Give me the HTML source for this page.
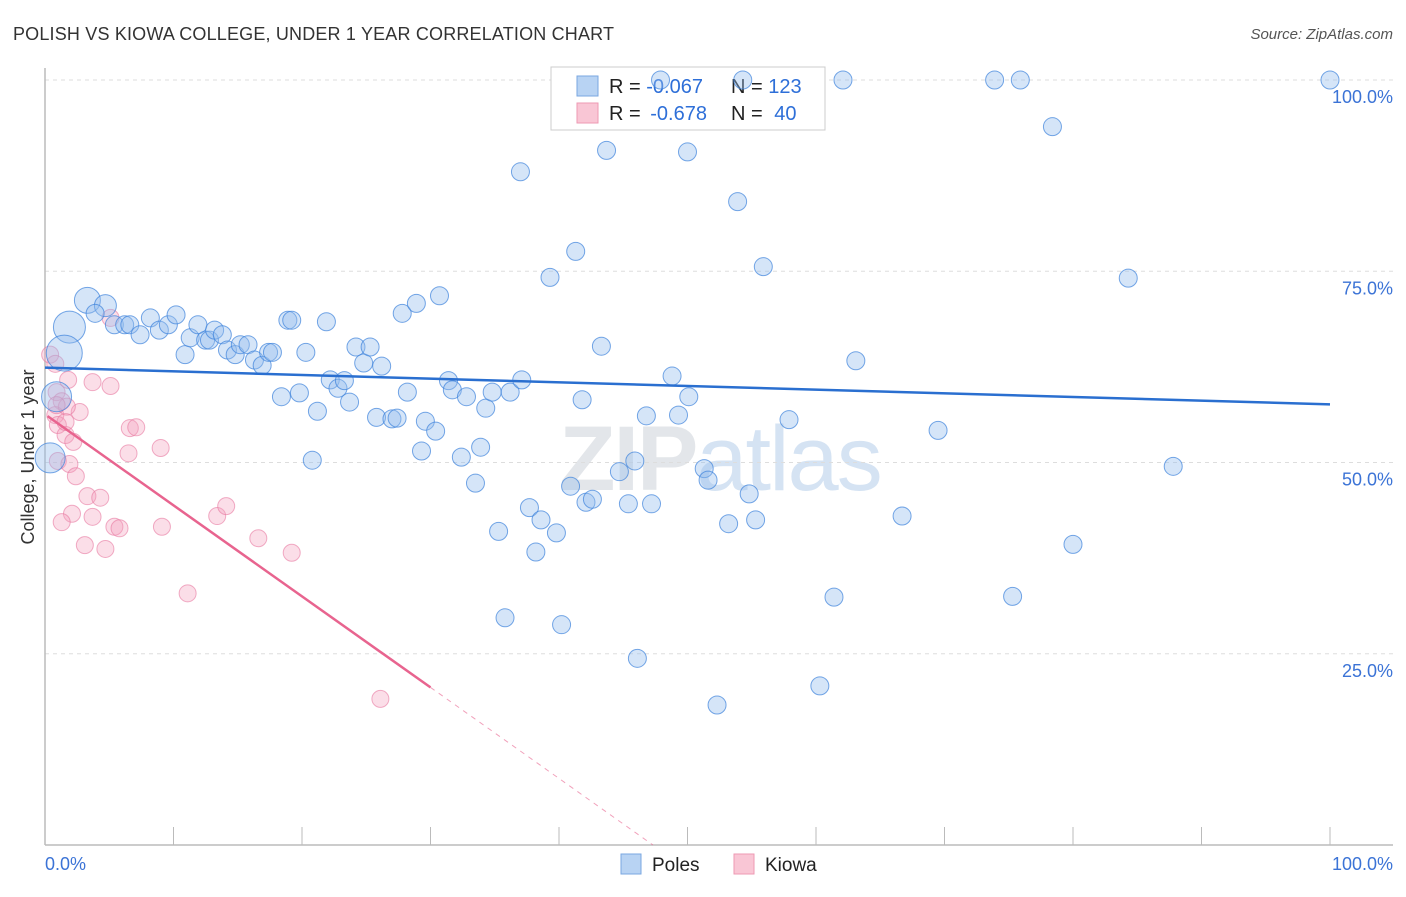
<!DOCTYPE html>
<html><head><meta charset="utf-8">
<style>
body{margin:0;background:#fff;font-family:"Liberation Sans",sans-serif;}
svg text{font-family:"Liberation Sans",sans-serif;}
</style></head>
<body>
<svg id="chart" width="1406" height="892" viewBox="0 0 1406 892">
<text x="13" y="40" font-size="18" fill="#333" textLength="601">POLISH VS KIOWA COLLEGE, UNDER 1 YEAR CORRELATION CHART</text>
<text x="1393" y="39" font-size="15" fill="#555" font-style="italic" text-anchor="end">Source: ZipAtlas.com</text>
<text x="720" y="490" font-size="92" fill="#e3e6ea" text-anchor="middle" font-weight="bold" letter-spacing="-2">ZIP<tspan fill="#d5e3f3" font-weight="normal">atlas</tspan></text>
<g id="grid"></g>
<g id="axes"></g>
<g>
<rect x="551" y="67" width="274" height="63" fill="#fff" stroke="#ccc"/>
<rect x="577" y="76" width="21" height="20" fill="#b8d3f3" stroke="#7aa7e0"/>
<rect x="577" y="103" width="21" height="20" fill="#f9c6d5" stroke="#ee99b3"/>
<text x="609" y="93" font-size="20" fill="#222">R = <tspan fill="#2e6fd8">-0.067</tspan></text>
<text x="731" y="93" font-size="20" fill="#222">N = <tspan fill="#2e6fd8">123</tspan></text>
<text x="609" y="120" font-size="20" fill="#222">R = <tspan fill="#2e6fd8" dx="4">-0.678</tspan></text>
<text x="731" y="120" font-size="20" fill="#222">N = <tspan fill="#2e6fd8" dx="6">40</tspan></text>
</g>
<g id="pts"></g>
<g id="trend"></g>
<text transform="translate(34,457) rotate(-90)" font-size="18" fill="#333" text-anchor="middle">College, Under 1 year</text>
<g>
<rect x="621" y="854" width="20" height="20" fill="#b8d3f3" stroke="#7aa7e0"/>
<text x="652" y="871" font-size="19" fill="#222">Poles</text>
<rect x="734" y="854" width="20" height="20" fill="#f9c6d5" stroke="#ee99b3"/>
<text x="765" y="871" font-size="19" fill="#222">Kiowa</text>
</g>
</svg>
<script>
const yTicks=[100,75,50,25];
const yTickLabels=["100.0%","75.0%","50.0%","25.0%"];
const xTicks=[0,10,20,30,40,50,60,70,80,90,100];
const polesX=[47.9,54.3,62.1,73.9,75.9,100,78.4,43.7,50.0,37.0,53.9,41.3,39.3,55.9,84.3,3.3,4.7,3.9,1.9,1.5,0.9,0.4,5.4,6.2,6.6,7.4,8.2,8.9,9.6,10.2,10.9,11.3,11.9,12.5,12.8,13.2,13.8,14.2,14.8,15.2,15.8,16.3,16.9,17.4,17.7,18.9,19.2,20.3,21.9,18.4,19.8,20.8,21.2,22.2,22.8,23.3,23.7,24.2,24.8,25.3,26.2,25.8,27.0,27.4,27.8,28.9,30.7,28.2,29.3,29.6,30.4,31.4,31.7,32.4,32.8,33.5,33.9,34.3,34.8,35.3,35.8,36.2,37.1,37.7,38.2,38.6,39.8,40.2,40.9,41.8,42.1,42.6,43.3,44.7,45.4,45.9,46.1,46.8,47.2,48.8,49.3,50.1,51.3,51.6,52.3,53.2,54.8,55.3,57.9,60.3,61.4,63.1,66.7,69.5,75.3,80.0,87.8];
const polesY=[100,100,100,100,100,100,93.9,90.8,90.6,88.0,84.1,77.6,74.2,75.6,74.1,71.2,70.5,69.5,67.7,64.3,58.6,50.6,68.0,68.0,68.0,66.7,68.9,67.3,68.0,69.3,64.1,66.3,68.0,66.0,66.0,67.3,66.7,64.7,64.1,65.4,65.4,63.4,62.7,64.4,64.4,68.6,68.6,64.4,68.4,58.6,59.1,50.3,56.7,60.8,59.7,60.7,57.9,65.1,63.0,65.1,62.6,55.9,55.7,55.8,69.5,70.8,71.8,59.2,51.5,55.4,54.1,60.7,59.5,50.7,58.6,47.3,52.0,57.1,59.2,41.0,29.7,59.2,60.8,44.1,38.3,42.5,40.8,28.8,46.9,58.2,44.8,45.2,65.2,48.8,44.6,50.2,24.4,56.1,44.6,61.3,56.2,58.6,49.2,47.7,18.3,42.0,45.9,42.5,55.6,20.8,32.4,63.3,43.0,54.2,32.5,39.3,49.5];
const polesSize=[9,9,9,9,9,9,9,9,9,9,9,9,9,9,9,13,11,9,16,18,15,15];
const kiowaX=[0.4,0.8,0.9,1.3,0.8,1.0,1.6,1.6,2.7,3.7,5.1,5.1,1.8,2.2,1.0,1.9,2.4,3.3,4.3,2.1,1.3,3.7,3.1,4.7,5.4,5.8,6.5,6.6,7.1,9.0,9.1,11.1,13.4,14.1,16.6,19.2,26.1,1.7,0.9];
const kiowaY=[64.1,62.9,59.2,58.0,56.2,54.9,53.6,55.3,56.6,60.5,60.0,68.9,60.8,52.7,50.2,49.8,48.2,45.6,45.4,43.3,42.2,42.9,39.2,38.7,41.6,41.4,51.2,54.5,54.6,51.9,41.6,32.9,43.0,44.3,40.1,38.2,19.1,57.3,57.5];
const polesTrend=[62.4,57.6];
const kiowaTrend=[56.3,-1.19];

const X0=45,X1=1330,Y0=845,Y100=80;
const sx=v=>X0+(X1-X0)*v/100;
const sy=v=>Y0-(Y0-Y100)*v/100;
const NS="http://www.w3.org/2000/svg";
function mk(tag,attrs,parent){const e=document.createElementNS(NS,tag);for(const k in attrs)e.setAttribute(k,attrs[k]);parent.appendChild(e);return e;}
const grid=document.getElementById('grid'),axes=document.getElementById('axes'),pts=document.getElementById('pts'),trend=document.getElementById('trend');
yTicks.forEach((t,i)=>{
  const l=mk('line',{x1:X0,x2:1393,y1:sy(t),y2:sy(t),stroke:'#ddd','stroke-dasharray':'4,4'},grid);
  
  
  const tx=mk('text',{x:1393,y:sy(t)+23,'font-size':18,fill:'#3b73d6','text-anchor':'end'},axes);
  tx.textContent=yTickLabels[i];
  
  
});
const ax=mk('line',{x1:X0,x2:1393,y1:Y0,y2:Y0,stroke:'#bbb','stroke-width':1.5},axes);


const ay=mk('line',{x1:X0,x2:X0,y1:68,y2:Y0,stroke:'#bbb','stroke-width':1.5},axes);


xTicks.forEach(t=>{
  const l=mk('line',{x1:sx(t),x2:sx(t),y1:827,y2:Y0,stroke:'#bbb'},axes);
  
  
});
const xl0=mk('text',{x:45,y:870,'font-size':18,fill:'#3b73d6'},axes);xl0.textContent='0.0%';


const xl1=mk('text',{x:1393,y:870,'font-size':18,fill:'#3b73d6','text-anchor':'end'},axes);xl1.textContent='100.0%';



kiowaX.forEach((x,i)=>{
  const c=mk('circle',{cx:sx(x),cy:sy(kiowaY[i]),r:8.5,fill:'rgba(244,160,188,0.35)',stroke:'rgba(232,120,160,0.6)','stroke-width':1},pts);
  
  
});
polesX.forEach((x,i)=>{
  const r=polesSize[i]||9;
  const c=mk('circle',{cx:sx(x),cy:sy(polesY[i]),r:r,fill:'rgba(150,190,238,0.4)',stroke:'rgba(60,130,220,0.7)','stroke-width':1},pts);
  
  
});
const pl=mk('line',{x1:sx(0),y1:sy(polesTrend[0]),x2:sx(100),y2:sy(polesTrend[1]),stroke:'#2a6fd0','stroke-width':2.5},trend);


const kEnd=30, kZero=-kiowaTrend[0]/kiowaTrend[1];
const kl=mk('line',{x1:sx(0.2),y1:sy(kiowaTrend[0]+kiowaTrend[1]*0.2),x2:sx(kEnd),y2:sy(kiowaTrend[0]+kiowaTrend[1]*kEnd),stroke:'#e8648f','stroke-width':2.5},trend);


const kd=mk('line',{x1:sx(kEnd),y1:sy(kiowaTrend[0]+kiowaTrend[1]*kEnd),x2:sx(kZero),y2:sy(0),stroke:'#e8648f','stroke-width':1,'stroke-dasharray':'5,5',opacity:0.6},trend);


</script>
</body></html>
